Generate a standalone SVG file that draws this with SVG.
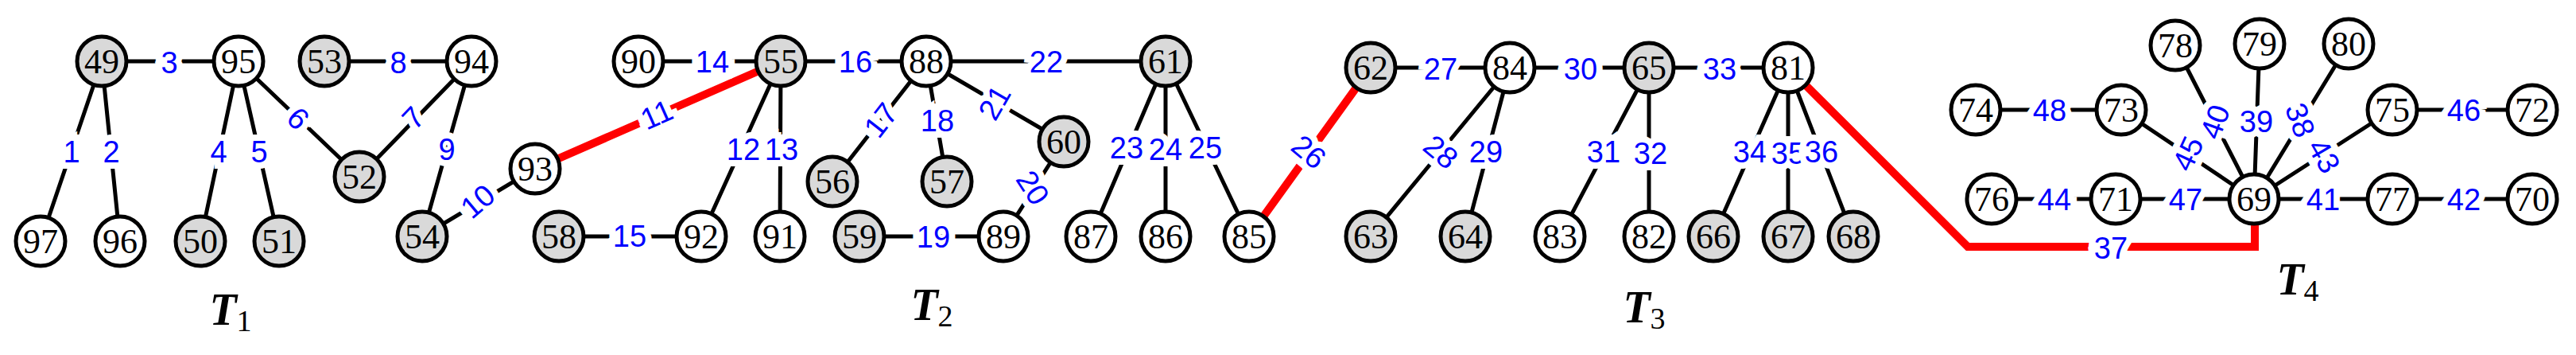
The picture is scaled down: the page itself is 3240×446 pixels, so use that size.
<svg xmlns="http://www.w3.org/2000/svg" width="3240" height="446" viewBox="0 0 3240 446">
<style>
.e{stroke:#000;stroke-width:5;fill:none}
.r{stroke:#f00;stroke-width:10;fill:none}
.n circle{stroke:#000;stroke-width:5;fill:#fff}
.g circle{fill:#d9d9d9}
.n text{font-family:"Liberation Serif",serif;font-size:44px;text-anchor:middle;dominant-baseline:central}
.l{font-family:"Liberation Sans",sans-serif;font-size:38px;fill:#00f;text-anchor:middle;dominant-baseline:central;stroke:#fff;stroke-width:16;paint-order:stroke}
.t{font-family:"Liberation Serif",serif;font-size:56px;font-style:italic;font-weight:bold;text-anchor:middle}
.t tspan{font-size:38px;font-style:normal;font-weight:normal}
</style>
<g id="connectors">
<path class="e" d="M128 77L51 303M128 77L151 303M128 77L300 77M300 77L252 303M300 77L351 303M300 77L452 222M408 77L593 77M593 77L452 222M593 77L531 297M531 297L673 212M803 77L982 77M982 77L882 297M982 77L981 297M982 77L1165 77M703 297L882 297M1165 77L1047 228M1165 77L1191 228M1165 77L1338 178M1338 178L1262 297M1081 297L1262 297M1165 77L1466 77M1466 77L1372 297M1466 77L1466 297M1466 77L1571 297M1724 85L2249 85M1899 85L1724 297M1899 85L1843 297M2074 85L1962 297M2074 85L2074 297M2249 85L2155 297M2249 85L2249 297M2249 85L2331 297M2835 250L2736 57M2835 250L2842 55M2835 250L2954 55M2835 250L2668 138M2835 250L3009 138M2485 138L2668 138M3009 138L3185 138M2505 250L3185 250"/>
<path class="r" d="M673 212L982 77M1571 297L1724 85M2249 85L2475 310L2836 310L2836 260"/>
<text class="l" x="90" y="191">1</text><text class="l" x="140" y="191">2</text><text class="l" x="213" y="79">3</text><text class="l" x="275" y="191">4</text><text class="l" x="326" y="191">5</text>
<text class="l" transform="translate(375 149) rotate(44)">6</text><text class="l" transform="translate(520 148) rotate(-46)">7</text><text class="l" x="501" y="79">8</text><text class="l" x="562" y="188">9</text>
<text class="l" transform="translate(601 253) rotate(-40)">10</text><text class="l" transform="translate(826 144) rotate(-24)">11</text><text class="l" x="935" y="188">12</text><text class="l" x="983" y="188">13</text>
<text class="l" x="896" y="78">14</text><text class="l" x="792" y="297">15</text><text class="l" x="1076" y="78">16</text><text class="l" transform="translate(1108 151) rotate(-52)">17</text><text class="l" x="1179" y="152">18</text>
<text class="l" x="1174" y="298">19</text><text class="l" transform="translate(1299 236) rotate(57)">20</text><text class="l" transform="translate(1251 129) rotate(-60)">21</text><text class="l" x="1316" y="78">22</text>
<text class="l" x="1417" y="186">23</text><text class="l" x="1466" y="188">24</text><text class="l" x="1516" y="186">25</text><text class="l" transform="translate(1646 191) rotate(40)">26</text>
<text class="l" x="1812" y="87">27</text><text class="l" transform="translate(1812 191) rotate(40)">28</text><text class="l" x="1869" y="191">29</text><text class="l" x="1988" y="87">30</text>
<text class="l" x="2017" y="191">31</text><text class="l" x="2076" y="193">32</text><text class="l" x="2163" y="87">33</text><text class="l" x="2201" y="191">34</text><text class="l" x="2249" y="193">35</text><text class="l" x="2291" y="191">36</text>
<text class="l" x="2655" y="312">37</text><text class="l" transform="translate(2893 151) rotate(70)">38</text><text class="l" x="2838" y="153">39</text><text class="l" transform="translate(2786 153) rotate(-70)">40</text>
<text class="l" x="2922" y="251">41</text><text class="l" x="3099" y="251">42</text><text class="l" transform="translate(2923 196) rotate(60)">43</text><text class="l" x="2584" y="251">44</text>
<text class="l" transform="translate(2752 193) rotate(-65)">45</text><text class="l" x="3099" y="139">46</text><text class="l" x="2749" y="251">47</text><text class="l" x="2578" y="139">48</text>
</g>
<g id="n49" class="n g"><circle cx="128" cy="77" r="31"/><text x="128" y="77">49</text></g>
<g id="n95" class="n"><circle cx="300" cy="77" r="31"/><text x="300" y="77">95</text></g>
<g id="n53" class="n g"><circle cx="408" cy="77" r="31"/><text x="408" y="77">53</text></g>
<g id="n94" class="n"><circle cx="593" cy="77" r="31"/><text x="593" y="77">94</text></g>
<g id="n97" class="n"><circle cx="51" cy="303" r="31"/><text x="51" y="303">97</text></g>
<g id="n96" class="n"><circle cx="151" cy="303" r="31"/><text x="151" y="303">96</text></g>
<g id="n50" class="n g"><circle cx="252" cy="303" r="31"/><text x="252" y="303">50</text></g>
<g id="n51" class="n g"><circle cx="351" cy="303" r="31"/><text x="351" y="303">51</text></g>
<g id="n52" class="n g"><circle cx="452" cy="222" r="31"/><text x="452" y="222">52</text></g>
<g id="n54" class="n g"><circle cx="531" cy="297" r="31"/><text x="531" y="297">54</text></g>
<g id="n93" class="n"><circle cx="673" cy="212" r="31"/><text x="673" y="212">93</text></g>
<g id="n58" class="n g"><circle cx="703" cy="297" r="31"/><text x="703" y="297">58</text></g>
<g id="n90" class="n"><circle cx="803" cy="77" r="31"/><text x="803" y="77">90</text></g>
<g id="n55" class="n g"><circle cx="982" cy="77" r="31"/><text x="982" y="77">55</text></g>
<g id="n88" class="n"><circle cx="1165" cy="77" r="31"/><text x="1165" y="77">88</text></g>
<g id="n61" class="n g"><circle cx="1466" cy="77" r="31"/><text x="1466" y="77">61</text></g>
<g id="n60" class="n g"><circle cx="1338" cy="178" r="31"/><text x="1338" y="178">60</text></g>
<g id="n56" class="n g"><circle cx="1047" cy="228" r="31"/><text x="1047" y="228">56</text></g>
<g id="n57" class="n g"><circle cx="1191" cy="228" r="31"/><text x="1191" y="228">57</text></g>
<g id="n92" class="n"><circle cx="882" cy="297" r="31"/><text x="882" y="297">92</text></g>
<g id="n91" class="n"><circle cx="981" cy="297" r="31"/><text x="981" y="297">91</text></g>
<g id="n59" class="n g"><circle cx="1081" cy="297" r="31"/><text x="1081" y="297">59</text></g>
<g id="n89" class="n"><circle cx="1262" cy="297" r="31"/><text x="1262" y="297">89</text></g>
<g id="n87" class="n"><circle cx="1372" cy="297" r="31"/><text x="1372" y="297">87</text></g>
<g id="n86" class="n"><circle cx="1466" cy="297" r="31"/><text x="1466" y="297">86</text></g>
<g id="n85" class="n"><circle cx="1571" cy="297" r="31"/><text x="1571" y="297">85</text></g>
<g id="n62" class="n g"><circle cx="1724" cy="85" r="31"/><text x="1724" y="85">62</text></g>
<g id="n84" class="n"><circle cx="1899" cy="85" r="31"/><text x="1899" y="85">84</text></g>
<g id="n65" class="n g"><circle cx="2074" cy="85" r="31"/><text x="2074" y="85">65</text></g>
<g id="n81" class="n"><circle cx="2249" cy="85" r="31"/><text x="2249" y="85">81</text></g>
<g id="n63" class="n g"><circle cx="1724" cy="297" r="31"/><text x="1724" y="297">63</text></g>
<g id="n64" class="n g"><circle cx="1843" cy="297" r="31"/><text x="1843" y="297">64</text></g>
<g id="n83" class="n"><circle cx="1962" cy="297" r="31"/><text x="1962" y="297">83</text></g>
<g id="n82" class="n"><circle cx="2074" cy="297" r="31"/><text x="2074" y="297">82</text></g>
<g id="n66" class="n g"><circle cx="2155" cy="297" r="31"/><text x="2155" y="297">66</text></g>
<g id="n67" class="n g"><circle cx="2249" cy="297" r="31"/><text x="2249" y="297">67</text></g>
<g id="n68" class="n g"><circle cx="2331" cy="297" r="31"/><text x="2331" y="297">68</text></g>
<g id="n78" class="n"><circle cx="2736" cy="57" r="31"/><text x="2736" y="57">78</text></g>
<g id="n79" class="n"><circle cx="2842" cy="55" r="31"/><text x="2842" y="55">79</text></g>
<g id="n80" class="n"><circle cx="2954" cy="55" r="31"/><text x="2954" y="55">80</text></g>
<g id="n74" class="n"><circle cx="2485" cy="138" r="31"/><text x="2485" y="138">74</text></g>
<g id="n73" class="n"><circle cx="2668" cy="138" r="31"/><text x="2668" y="138">73</text></g>
<g id="n75" class="n"><circle cx="3009" cy="138" r="31"/><text x="3009" y="138">75</text></g>
<g id="n72" class="n"><circle cx="3185" cy="138" r="31"/><text x="3185" y="138">72</text></g>
<g id="n76" class="n"><circle cx="2505" cy="250" r="31"/><text x="2505" y="250">76</text></g>
<g id="n71" class="n"><circle cx="2661" cy="250" r="31"/><text x="2661" y="250">71</text></g>
<g id="n69" class="n"><circle cx="2835" cy="250" r="31"/><text x="2835" y="250">69</text></g>
<g id="n77" class="n"><circle cx="3009" cy="250" r="31"/><text x="3009" y="250">77</text></g>
<g id="n70" class="n"><circle cx="3185" cy="250" r="31"/><text x="3185" y="250">70</text></g>
<text class="t" x="290" y="408">T<tspan dy="8">1</tspan></text>
<text class="t" x="1172" y="402">T<tspan dy="8">2</tspan></text>
<text class="t" x="2068" y="405">T<tspan dy="8">3</tspan></text>
<text class="t" x="2890" y="370">T<tspan dy="8">4</tspan></text>
</svg>
